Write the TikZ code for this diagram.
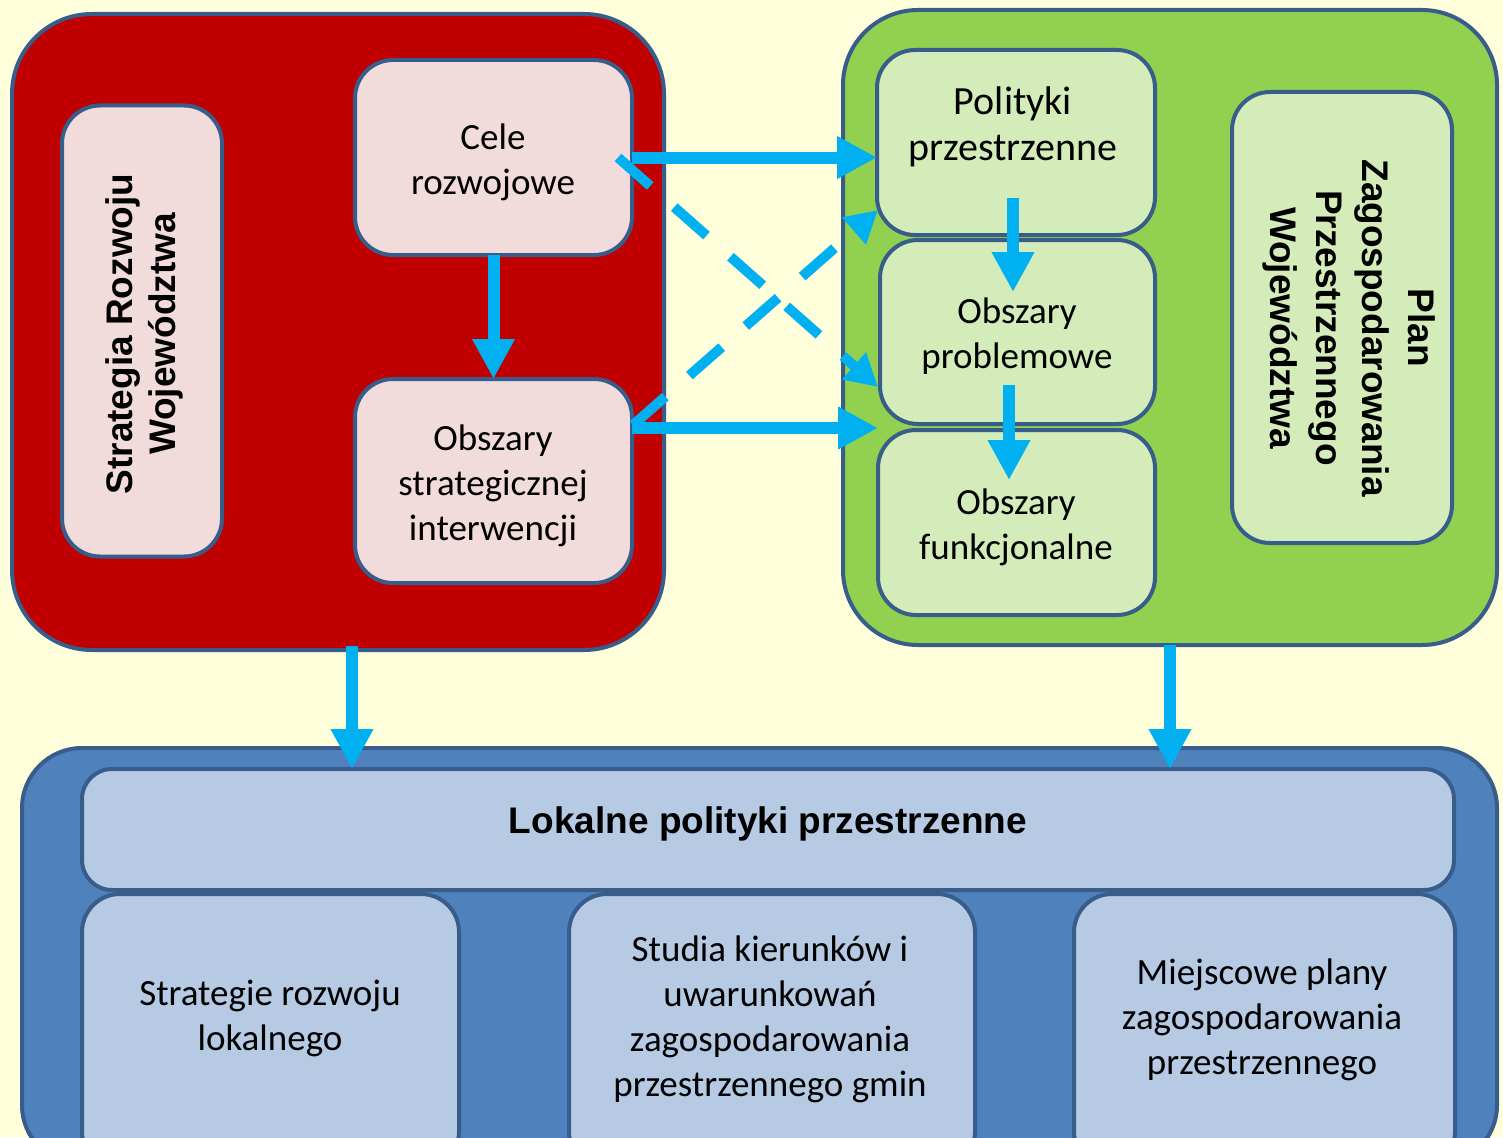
\documentclass[tikz,border=0pt]{standalone}
\usepackage{fontspec}
\setmainfont{Carlito}
\newfontfamily\arialf{Liberation Sans}
\usetikzlibrary{arrows.meta,calc}
\definecolor{bgc}{HTML}{FFFFDB}
\definecolor{redc}{HTML}{C00000}
\definecolor{pinkc}{HTML}{F2DCDB}
\definecolor{greenc}{HTML}{92D050}
\definecolor{lgreenc}{HTML}{D3ECB9}
\definecolor{bluec}{HTML}{4F81BD}
\definecolor{lbluec}{HTML}{B6CAE4}
\definecolor{bordc}{HTML}{385D8A}
\definecolor{arrc}{HTML}{00B0F0}
\begin{document}
\begin{tikzpicture}[x=1pt,y=-1pt,
  cont/.style={draw=bordc, line width=4pt, rounded corners=80pt, inner sep=0pt, outer sep=0pt},
  inbox/.style={draw=bordc, line width=4pt, rounded corners=38pt, inner sep=0pt, outer sep=0pt, align=center, font=\fontsize{37}{45}\selectfont},
  txt/.style={align=center, font=\fontsize{37}{45}\selectfont},
  boldtxt/.style={align=center, font=\arialf\bfseries\fontsize{37}{45}\selectfont},
  flow/.style={draw=arrc, line width=12pt, -{Triangle[length=40pt,width=40pt]}},
  dflow/.style={draw=arrc, line width=10pt, dash pattern=on 43pt off 32pt, -{Triangle[length=32pt,width=34pt]}}
]
\useasboundingbox (0,0) rectangle (1503,1137);
\clip (0,0) rectangle (1503,1137);
\fill[bgc] (0,0) rectangle (1503,1137);

% containers
\node[cont, fill=redc, minimum width=652pt, minimum height=636pt] (red) at (338,332) {};
\node[cont, fill=greenc, minimum width=654pt, minimum height=635pt, rounded corners=75pt] (green) at (1170,327.5) {};
\node[cont, fill=bluec, minimum width=1475pt, minimum height=417pt, rounded corners=60pt] (blue) at (759.5,956.5) {};

% red inner boxes
\node[inbox, fill=pinkc, rotate=90, minimum width=451pt, minimum height=160pt] (sr) at (142,331) {};
\node[boldtxt, rotate=90, font=\arialf\bfseries\fontsize{37}{43}\selectfont] (srtxt) at (144,334) {Strategia Rozwoju\\Województwa};
\node[inbox, fill=pinkc, minimum width=277pt, minimum height=195pt] (cele) at (493.5,157.5) {};
\node[txt] (celetxt) at (493,162) {Cele\\rozwojowe};
\node[inbox, fill=pinkc, minimum width=277pt, minimum height=204pt] (ostrat) at (493.5,481) {};
\node[txt] (ostrattxt) at (493,486) {Obszary\\strategicznej\\interwencji};

% green inner boxes
\node[inbox, fill=lgreenc, minimum width=278pt, minimum height=185pt] (polit) at (1016,142.5) {};
\node[txt, font=\fontsize{40}{46}\selectfont] (polittxt) at (1013,127) {Polityki\\przestrzenne};
\node[inbox, fill=lgreenc, minimum width=275pt, minimum height=184pt] (oprob) at (1017.5,332) {};
\node[txt] (oprobtxt) at (1017,336) {Obszary\\problemowe};
\node[inbox, fill=lgreenc, minimum width=277pt, minimum height=185pt] (ofunk) at (1016.5,522.5) {};
\node[txt] (ofunktxt) at (1016,527) {Obszary\\funkcjonalne};
\node[inbox, fill=lgreenc, rotate=-90, minimum width=451pt, minimum height=220pt] (plan) at (1342,317.5) {};
\node[boldtxt, rotate=-90, font=\arialf\bfseries\fontsize{37}{46}\selectfont] (plantxt) at (1349,328) {Plan\\Zagospodarowania\\Przestrzennego\\Województwa};

% blue inner boxes
\node[inbox, fill=lbluec, rounded corners=30pt, minimum width=1372pt, minimum height=121pt] (lokal) at (768,829.5) {};
\node[boldtxt] (lokaltxt) at (768,824) {Lokalne polityki przestrzenne};
\node[inbox, fill=lbluec, minimum width=377pt, minimum height=276pt] (srl) at (270.5,1032) {};
\node[txt] (srltxt) at (270,1018) {Strategie rozwoju\\lokalnego};
\node[inbox, fill=lbluec, minimum width=406pt, minimum height=276pt] (stud) at (772,1032) {};
\node[txt] (studtxt) at (770,1019) {Studia kierunków i\\uwarunkowań\\zagospodarowania\\przestrzennego gmin};
\node[inbox, fill=lbluec, minimum width=381pt, minimum height=276pt] (mpz) at (1264.5,1032) {};
\node[txt] (mpztxt) at (1262,1020) {Miejscowe plany\\zagospodarowania\\przestrzennego};

% connectors
\coordinate (s1) at (cele.east);
\coordinate (s2) at ($(ostrat.north east)+(0,49)$);
\draw[dflow] ($(cele.east)+(-14,0)$) -- ($(oprob.south west)+(-2,-37)$);
\draw[dflow] ($(ostrat.north east)+(1,46)$) -- ($(polit.south west)+(1,-25)$);
\draw[flow] (s1) -- (s1 -| polit.west);
\draw[flow] (s2) -- (s2 -| ofunk.west);
\draw[flow] (cele.south) -- (ostrat.north);
\draw[flow] ($(polit.south)+(-3,-37)$) -- ($(oprob.north)+(-4.5,52)$);
\draw[flow] ($(oprob.south)+(-8.5,-39)$) -- ($(ofunk.north)+(-7.5,50)$);
\coordinate (r1) at ($(red.south)+(14,-4)$);
\coordinate (g1) at ($(green.south)+(0,0)$);
\draw[flow] (r1) -- (r1 |- lokal.north);
\draw[flow] (g1) -- (g1 |- lokal.north);
\end{tikzpicture}
\end{document}
